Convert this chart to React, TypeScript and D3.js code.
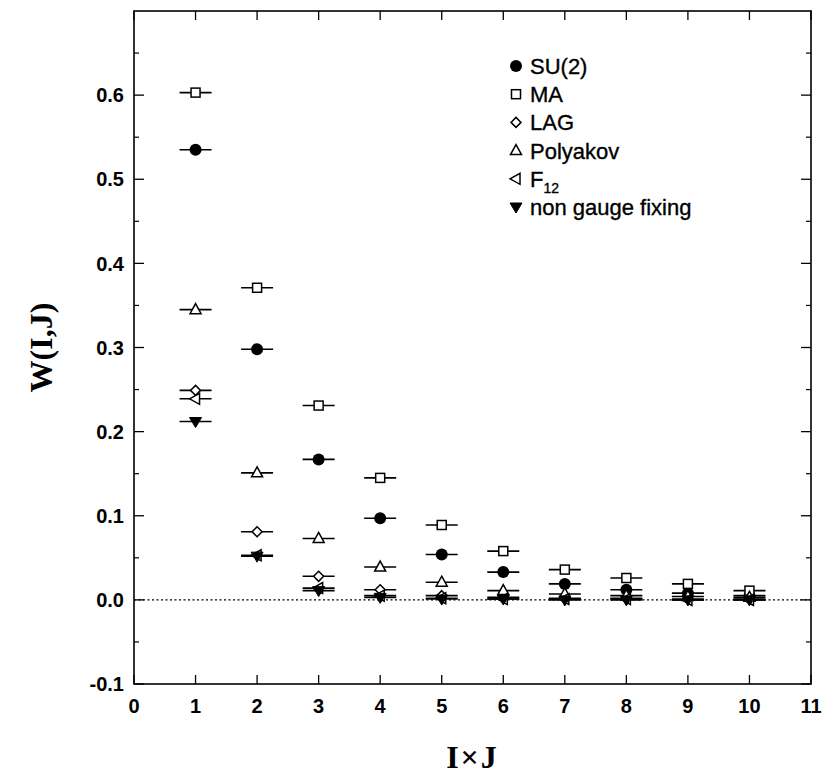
import React from "react";
import * as d3 from "d3";

const xValues = [1, 2, 3, 4, 5, 6, 7, 8, 9, 10];
const su2 = [0.535, 0.298, 0.167, 0.097, 0.054, 0.033, 0.019, 0.012, 0.008, 0.005];
const ma = [0.603, 0.371, 0.231, 0.145, 0.089, 0.058, 0.036, 0.026, 0.019, 0.011];
const lag = [0.249, 0.081, 0.028, 0.012, 0.005, 0.003, 0.002, 0.002, 0.001, 0.001];
const polyakov = [0.345, 0.151, 0.073, 0.039, 0.021, 0.011, 0.007, 0.005, 0.004, 0.003];
const f12 = [0.239, 0.053, 0.014, 0.005, 0.002, 0.001, 0.001, 0.001, 0.0, 0.0];
const ngf = [0.212, 0.052, 0.011, 0.003, 0.001, 0.001, 0.0, 0.0, 0.0, 0.0];

const xTicks = [0, 1, 2, 3, 4, 5, 6, 7, 8, 9, 10, 11];
const yTicks = [-0.1, 0.0, 0.1, 0.2, 0.3, 0.4, 0.5, 0.6];
const yMinorTicks = [-0.05, 0.05, 0.15, 0.25, 0.35, 0.45, 0.55, 0.65];

const seriesNames = ["SU(2)", "MA", "LAG", "Polyakov", "F12", "non gauge fixing"];
const seriesSymbols = ["circle", "square", "diamond", "triUp", "triLeft", "triDown"];
const seriesData = [su2, ma, lag, polyakov, f12, ngf];
const barHalfWidth = 0.26;

function Marker({ type, cx, cy }: { type: string; cx: number; cy: number }) {
  const common = { stroke: "#000", strokeWidth: 1.5 };
  if (type === "circle") return <circle cx={cx} cy={cy} r={6} fill="#000" />;
  if (type === "square")
    return <rect x={cx - 4.5} y={cy - 4.5} width={9} height={9} fill="#fff" {...common} />;
  if (type === "diamond")
    return (
      <path d={`M${cx},${cy - 5}L${cx + 5},${cy}L${cx},${cy + 5}L${cx - 5},${cy}Z`} fill="#fff" {...common} />
    );
  if (type === "triUp")
    return (
      <path d={`M${cx},${cy - 6}L${cx + 5.5},${cy + 4}L${cx - 5.5},${cy + 4}Z`} fill="#fff" {...common} />
    );
  if (type === "triLeft")
    return (
      <path d={`M${cx - 6},${cy}L${cx + 4},${cy - 5.5}L${cx + 4},${cy + 5.5}Z`} fill="#fff" {...common} />
    );
  return <path d={`M${cx},${cy + 6}L${cx + 6},${cy - 4}L${cx - 6},${cy - 4}Z`} fill="#000" stroke="#000" strokeWidth={1} />;
}

export default function App() {
  const W = 824,
    H = 774;
  const left = 134,
    right = 811,
    top = 11,
    bottom = 684;
  const x = d3.scaleLinear().domain([0, 11]).range([left, right]);
  const y = d3.scaleLinear().domain([-0.1, 0.7]).range([bottom, top]);
  const tickFont = "'Liberation Sans', Arial, Helvetica, sans-serif";
  const serif = "'Liberation Serif', 'Times New Roman', serif";

  const legendX = 516;
  const legendY0 = 66;
  const legendDy = 28.2;

  return (
    <svg width={W} height={H} style={{ position: "absolute", left: 0, top: 0, background: "#fff" }}>
      <rect x={0} y={0} width={W} height={H} fill="#fff" />
      {/* zero line */}
      <line x1={x(0)} x2={x(11)} y1={y(0)} y2={y(0)} stroke="#000" strokeWidth={1.2} strokeDasharray="2,2.5" />
      {/* frame */}
      <rect x={left} y={top} width={right - left} height={bottom - top} fill="none" stroke="#000" strokeWidth={1.6} />
      {/* y ticks */}
      {yTicks.map((t) => (
        <g key={"y" + t}>
          <line x1={left} x2={left + 10} y1={y(t)} y2={y(t)} stroke="#000" strokeWidth={1.3} />
          <line x1={right} x2={right - 10} y1={y(t)} y2={y(t)} stroke="#000" strokeWidth={1.3} />
          <text x={left - 10} y={y(t)} dy="0.36em" textAnchor="end" fontFamily={tickFont} fontWeight="bold" fontSize={20}>
            {t.toFixed(1)}
          </text>
        </g>
      ))}
      {yMinorTicks.map((t) => (
        <g key={"ym" + t}>
          <line x1={left} x2={left + 5} y1={y(t)} y2={y(t)} stroke="#000" strokeWidth={1.2} />
          <line x1={right} x2={right - 5} y1={y(t)} y2={y(t)} stroke="#000" strokeWidth={1.2} />
        </g>
      ))}
      {/* x ticks */}
      {xTicks.map((t) => (
        <g key={"x" + t}>
          <line x1={x(t)} x2={x(t)} y1={bottom} y2={bottom - 9} stroke="#000" strokeWidth={1.3} />
          <line x1={x(t)} x2={x(t)} y1={top} y2={top + 9} stroke="#000" strokeWidth={1.3} />
          <text x={x(t)} y={bottom + 22} dy="0.36em" textAnchor="middle" fontFamily={tickFont} fontWeight="bold" fontSize={20}>
            {t}
          </text>
        </g>
      ))}
      {/* data */}
      {seriesData.map((vals, si) => (
        <g key={"s" + si}>
          {vals.map((v, i) => (
            <g key={i}>
              <line
                x1={x(xValues[i] - barHalfWidth)}
                x2={x(xValues[i] + barHalfWidth)}
                y1={y(v)}
                y2={y(v)}
                stroke="#000"
                strokeWidth={1.6}
              />
              <Marker type={seriesSymbols[si]} cx={x(xValues[i])} cy={y(v)} />
            </g>
          ))}
        </g>
      ))}
      {/* legend */}
      {seriesNames.map((n, i) => {
        const cy = legendY0 + i * legendDy;
        return (
          <g key={"l" + i}>
            <Marker type={seriesSymbols[i]} cx={legendX} cy={cy} />
            <text
              x={legendX + 14}
              y={cy}
              dy="0.36em"
              fontFamily={tickFont}
              fontSize={22}
              stroke="#000"
              strokeWidth={0.35}
            >
              {n === "F12" ? (
                <>
                  F<tspan fontSize={14} dy="6">12</tspan>
                </>
              ) : (
                n
              )}
            </text>
          </g>
        );
      })}
      {/* axis titles */}
      <text
        transform={`translate(40, ${(top + bottom) / 2}) rotate(-90)`}
        textAnchor="middle"
        dy="0.36em"
        fontFamily={serif}
        fontWeight="bold"
        fontSize={32}
      >
        W(I,J)
      </text>
      <text
        x={(left + right) / 2}
        y={756}
        dy="0.36em"
        textAnchor="middle"
        fontFamily={serif}
        fontWeight="bold"
        fontSize={32}
        letterSpacing={2}
      >
        I×J
      </text>
    </svg>
  );
}
